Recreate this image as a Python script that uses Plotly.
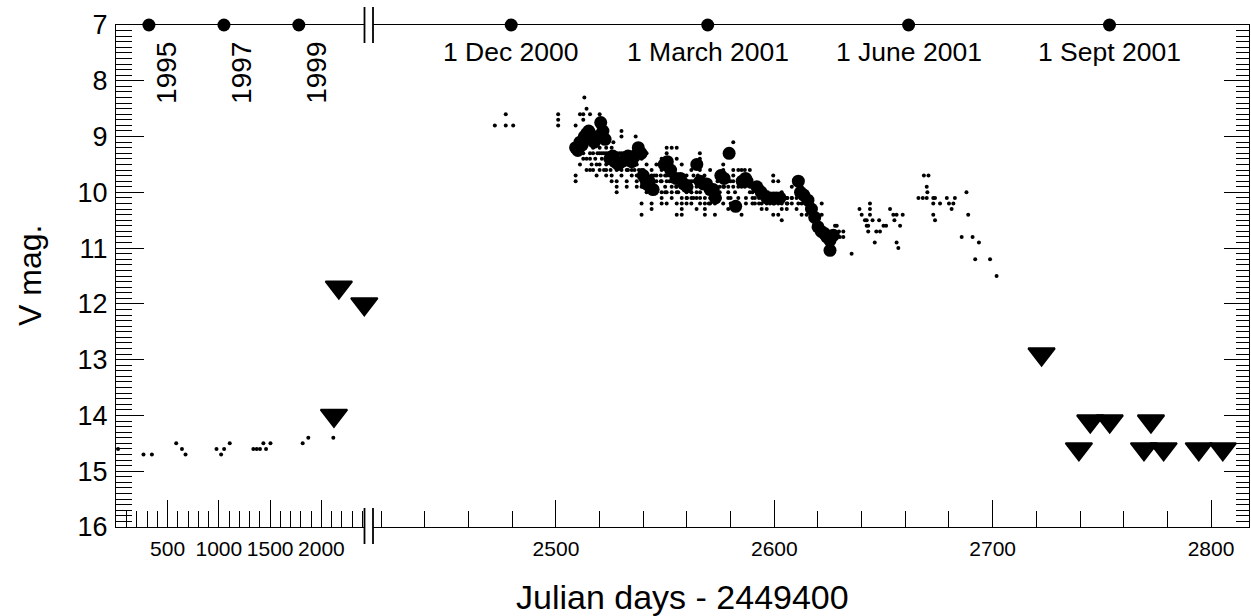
import plotly.graph_objects as go

# ---------------- data ----------------
# left (compressed) segment: archival observations, days = JD - 2449400
early_day = [17, 265, 347, 584, 640, 675, 977, 1022, 1051, 1106, 1336, 1369, 1401,
             1434, 1460, 1503, 1817, 1872, 2116]
early_mag = [14.6, 14.7, 14.7, 14.5, 14.6, 14.7, 14.6, 14.7, 14.6, 14.5, 14.6, 14.6, 14.6,
             14.5, 14.6, 14.5, 14.5, 14.4, 14.4]

# upper limits (triangles)
early_limit_day = [2122, 2170, 2418]
early_limit_mag = [14.0, 11.7, 12.0]
late_limit_day = [2722.4, 2739.5, 2744.7, 2753.6, 2772.5, 2769.3, 2778.3, 2794.4, 2805.4]
late_limit_mag = [12.9, 14.6, 14.1, 14.1, 14.1, 14.6, 14.6, 14.6, 14.6]

# right segment: visual estimates (small dots)
small_day = [
    2472, 2477, 2477, 2480.4,
    2501, 2501, 2501,
    2509, 2509, 2509,
    2511, 2511, 2511,
    2512.5, 2512.5, 2512.5, 2512.5,
    2513,
    2514, 2514, 2514,
    2515.6, 2515.6, 2515.6, 2515.6,
    2516.3,
    2517, 2517, 2517,
    2518.6, 2518.6,
    2520, 2520, 2520, 2520, 2520,
    2523, 2523, 2523, 2523, 2523, 2523,
    2525.5, 2525.5, 2525.5, 2525.5, 2525.5,
    2526.3,
    2527.8, 2527.8, 2527.8, 2527.8, 2527.8, 2527.8,
    2530, 2530, 2530, 2530, 2530,
    2532.4, 2532.4, 2532.4, 2532.4, 2532.4,
    2534.7, 2534.7, 2534.7,
    2536.5,
    2537, 2537, 2537, 2537, 2537,
    2539.2, 2539.2, 2539.2, 2539.2, 2539.2, 2539.2,
    2541.5, 2541.5, 2541.5, 2541.5, 2541.5, 2541.5,
    2543.8, 2543.8, 2543.8, 2543.8, 2543.8, 2543.8,
    2546, 2546, 2546, 2546, 2546,
    2548.4, 2548.4, 2548.4, 2548.4, 2548.4, 2548.4,
    2550.7, 2550.7, 2550.7, 2550.7, 2550.7, 2550.7,
    2553, 2553, 2553, 2553, 2553, 2553,
    2555.3, 2555.3, 2555.3, 2555.3, 2555.3, 2555.3, 2555.3, 2555.3,
    2557.6, 2557.6, 2557.6, 2557.6, 2557.6, 2557.6, 2557.6,
    2559.8, 2559.8, 2559.8, 2559.8, 2559.8, 2559.8,
    2562, 2562, 2562, 2562, 2562, 2562,
    2564.4, 2564.4, 2564.4, 2564.4, 2564.4,
    2565.9, 2565.9, 2565.9,
    2568.2, 2568.2, 2568.2, 2568.2, 2568.2, 2568.2,
    2570.6, 2570.6, 2570.6, 2570.6,
    2572.8, 2572.8, 2572.8, 2572.8,
    2576.6, 2576.6, 2576.6, 2576.6, 2576.6, 2576.6,
    2578.9, 2578.9, 2578.9, 2578.9, 2578.9,
    2581.2, 2581.2, 2581.2, 2581.2, 2581.2,
    2583.5, 2583.5, 2583.5, 2583.5, 2583.5, 2583.5,
    2585, 2585, 2585,
    2586.5, 2586.5, 2586.5,
    2588.8, 2588.8, 2588.8, 2588.8,
    2591.1, 2591.1, 2591.1,
    2594.2, 2594.2, 2594.2, 2594.2,
    2596.5, 2596.5, 2596.5,
    2599.5, 2599.5, 2599.5, 2599.5, 2599.5,
    2601.8, 2601.8, 2601.8, 2601.8,
    2603.4, 2603.4, 2603.4, 2603.4, 2603.4,
    2605.7, 2605.7, 2605.7,
    2608, 2608, 2608,
    2610.2, 2610.2, 2610.2, 2610.2,
    2612.5, 2612.5, 2612.5, 2612.5, 2612.5,
    2614.8, 2614.8,
    2617,
    2621.7, 2621.7,
    2627.8, 2627.8,
    2628.6, 2629.6, 2631.6, 2630, 2631.6, 2635.4,
    2639, 2640, 2641.5, 2642.3, 2642.3, 2643, 2643, 2643.8, 2643.8, 2643.8,
    2645, 2646, 2646.7, 2648.4, 2648, 2650, 2651.2, 2653, 2654.5, 2656,
    2658.8, 2655, 2656, 2656.8, 2657.6,
    2668.5, 2670.6, 2669.8, 2670.1, 2666, 2668, 2669.8, 2672.8, 2673.6, 2672.8,
    2675.9, 2672.8, 2673.6, 2679, 2682.7, 2680, 2682, 2681.2, 2688, 2688.8,
    2685.8, 2690.8, 2693.7, 2692, 2698.8, 2701.8,
    # horizontal runs of the dense part
    2519, 2521, 2522, 2524, 2526, 2529, 2531, 2533, 2535,
    2518, 2521, 2524, 2526, 2529, 2531, 2533, 2536,
    2522, 2525, 2530, 2533, 2536, 2538, 2540,
    2545, 2548, 2550, 2552, 2556, 2558, 2563, 2565, 2568,
    2540, 2544, 2548, 2552, 2554, 2557, 2561, 2563, 2566, 2574, 2578, 2580,
    2545, 2550, 2555, 2560, 2567, 2569, 2575, 2577, 2585, 2590, 2592,
    2550, 2553, 2556, 2562, 2566, 2575, 2582, 2590, 2597,
    2560, 2563, 2566, 2575, 2580, 2587, 2590, 2593, 2596, 2598, 2600, 2604, 2606, 2608,
    2566, 2570, 2580, 2587, 2590, 2593, 2598, 2600, 2606, 2611,
]
small_mag = [
    8.8, 8.6, 8.8, 8.8,
    8.6, 8.7, 8.8,
    8.8, 9.7, 9.8,
    8.6, 9.0, 9.5,
    8.6, 8.7, 9.3, 9.4,
    8.3,
    8.5, 9.4, 9.6,
    8.6, 9.3, 9.4, 9.6,
    9.5,
    9.2, 9.3, 9.6,
    9.5, 9.7,
    8.6, 9.2, 9.3, 9.5, 9.6,
    9.2, 9.3, 9.4, 9.5, 9.6, 9.7,
    9.2, 9.3, 9.5, 9.7, 9.8,
    9.1,
    9.3, 9.4, 9.6, 9.8, 9.9, 10.0,
    8.9, 9.0, 9.3, 9.5, 9.7,
    9.3, 9.5, 9.6, 9.8, 9.9,
    9.4, 9.6, 9.7,
    9.0,
    9.3, 9.5, 9.7, 9.8, 9.9,
    9.4, 9.6, 9.8, 9.9, 10.2, 10.4,
    9.3, 9.5, 9.7, 9.8, 9.9, 10.0,
    9.6, 9.7, 9.9, 10.0, 10.2, 10.3,
    9.5, 9.7, 9.8, 9.9, 10.0,
    9.4, 9.6, 9.8, 10.0, 10.1, 10.2,
    9.2, 9.3, 9.7, 9.8, 10.0, 10.2,
    9.2, 9.6, 9.7, 9.8, 9.9, 10.1,
    9.2, 9.4, 9.7, 9.8, 9.9, 10.0, 10.2, 10.4,
    9.5, 9.7, 9.9, 10.1, 10.2, 10.3, 10.4,
    9.7, 9.8, 9.9, 10.0, 10.1, 10.2,
    9.6, 9.8, 9.9, 10.0, 10.1, 10.2,
    9.8, 9.9, 10.0, 10.1, 10.3,
    9.3, 9.4, 9.6,
    9.8, 9.9, 10.1, 10.2, 10.3, 10.4,
    9.6, 10.0, 10.1, 10.2,
    10.0, 10.1, 10.2, 10.4,
    9.5, 9.6, 9.7, 9.8, 9.9, 10.2,
    9.8, 9.9, 10.0, 10.1, 10.3,
    9.1, 9.6, 9.7, 9.8, 9.9,
    9.6, 9.8, 9.9, 10.1, 10.2, 10.3,
    9.6, 9.8, 10.4,
    9.6, 9.8, 9.9,
    9.6, 9.8, 9.9, 10.0,
    9.9, 10.1, 10.2,
    9.9, 10.1, 10.2, 10.3,
    10.1, 10.2, 10.3,
    9.7, 9.8, 10.1, 10.2, 10.4,
    9.8, 10.1, 10.2, 10.4,
    10.0, 10.1, 10.2, 10.3, 10.5,
    10.1, 10.2, 10.3,
    9.9, 10.1, 10.2,
    9.8, 10.0, 10.1, 10.3,
    9.8, 9.9, 10.1, 10.2, 10.4,
    10.2, 10.4,
    10.4,
    10.2, 10.4,
    10.6, 10.7,
    10.6, 10.7, 10.7, 10.8, 10.8, 11.1,
    10.3, 10.4, 10.5, 10.5, 10.6, 10.6, 10.7, 10.2, 10.3, 10.4,
    10.5, 10.9, 10.7, 10.7, 10.5, 10.6, 10.6, 10.3, 10.4, 10.4,
    10.4, 10.5, 10.9, 11.0, 10.6,
    9.7, 9.7, 9.9, 10.0, 10.1, 10.1, 10.1, 10.1, 10.1, 10.2,
    10.2, 10.4, 10.5, 10.1, 10.1, 10.2, 10.2, 10.3, 10.0, 10.4,
    10.8, 10.8, 10.9, 11.2, 11.2, 11.5,
    9.3, 9.3, 9.3, 9.3, 9.3, 9.3, 9.3, 9.3, 9.3,
    9.4, 9.4, 9.4, 9.4, 9.4, 9.4, 9.4, 9.4,
    9.6, 9.6, 9.6, 9.6, 9.6, 9.6, 9.6,
    9.7, 9.7, 9.7, 9.7, 9.7, 9.7, 9.7, 9.7, 9.7,
    9.8, 9.8, 9.8, 9.8, 9.8, 9.8, 9.8, 9.8, 9.8, 9.8, 9.8, 9.8,
    9.9, 9.9, 9.9, 9.9, 9.9, 9.9, 9.9, 9.9, 9.9, 9.9, 9.9,
    10.0, 10.0, 10.0, 10.0, 10.0, 10.0, 10.0, 10.0, 10.0,
    10.1, 10.1, 10.1, 10.1, 10.1, 10.1, 10.1, 10.1, 10.1, 10.1, 10.1, 10.1, 10.1, 10.1,
    10.2, 10.2, 10.2, 10.2, 10.2, 10.2, 10.2, 10.2, 10.2, 10.2,
]

# right segment: nightly means (large dots)
big_day = [2509, 2511, 2513, 2515, 2516.5, 2520.5, 2521.5, 2522.5, 2524.7, 2527,
           2530, 2533, 2534.7, 2537.7, 2540, 2541.5, 2543, 2549.6, 2551, 2557,
           2558.5, 2564.5, 2566, 2569, 2570.6, 2572, 2573, 2575.5, 2579.3, 2582.3,
           2585.3, 2586.8, 2592, 2596.6, 2599.6, 2602.6, 2611, 2612, 2615.4, 2617,
           2620, 2623, 2625.5, 2625.5, 2627,
           2510, 2512, 2514, 2517.5, 2519, 2526, 2528.5, 2531.5, 2536, 2539,
           2542.5, 2544.5, 2552.5, 2555, 2560, 2567.5, 2577, 2587.5, 2594, 2598,
           2601, 2613.5, 2618.5, 2621.5, 2624]
big_mag = [9.2, 9.1, 9.0, 8.9, 9.05, 8.75, 8.9, 9.05, 9.4, 9.45,
           9.45, 9.35, 9.45, 9.2, 9.7, 9.85, 9.9, 9.5, 9.45, 9.75,
           9.85, 9.5, 9.8, 9.85, 9.95, 9.95, 10.1, 9.7, 9.3, 10.25,
           9.8, 9.75, 9.9, 10.1, 10.1, 10.1, 9.8, 10.0, 10.14, 10.3,
           10.62, 10.74, 10.86, 11.04, 10.77,
           9.25, 9.15, 8.95, 9.1, 9.0, 9.35, 9.5, 9.4, 9.35, 9.3,
           9.8, 9.95, 9.6, 9.75, 9.9, 9.85, 9.75, 9.8, 10.0, 10.1,
           10.1, 10.05, 10.45, 10.7, 10.8]

# calendar markers along the top axis
top_left_day = [318, 1049.5, 1779.5]
top_left_label = ["1995", "1997", "1999"]
top_right_day = [2479.5, 2569.5, 2661.5, 2753.5]
top_right_label = ["1 Dec 2000", "1 March 2001", "1 June 2001", "1 Sept 2001"]

left_ticks = [500, 1000, 1500, 2000]
right_ticks = [2500, 2600, 2700, 2800]
y_ticks = [7, 8, 9, 10, 11, 12, 13, 14, 15, 16]

# ---------------- figure ----------------
FONT = "Arial, Liberation Sans, sans-serif"
W, H = 1251, 616
ML, MR, MT, MB = 116, 2, 25, 89
PW = W - ML - MR
PH = H - MT - MB
BREAK_L, BREAK_R = 364.5, 373.0
dom_left = [0, (BREAK_L - ML) / PW]
dom_right = [(BREAK_R - ML) / PW, 1]

fig = go.Figure()

dot = dict(color="black", size=4)
big = dict(color="black", size=13)
tri = dict(color="black", size=23, symbol="triangle-down", line=dict(color="black", width=2))

fig.add_trace(go.Scatter(x=early_day, y=early_mag, mode="markers", marker=dot,
                         xaxis="x", yaxis="y", cliponaxis=False))
fig.add_trace(go.Scatter(x=early_limit_day, y=early_limit_mag, mode="markers", marker=tri,
                         xaxis="x", yaxis="y", cliponaxis=False))
fig.add_trace(go.Scatter(x=top_left_day, y=[7] * len(top_left_day), mode="markers",
                         marker=dict(color="black", size=13), xaxis="x", yaxis="y",
                         cliponaxis=False))

fig.add_trace(go.Scatter(x=small_day, y=small_mag, mode="markers", marker=dot,
                         xaxis="x2", yaxis="y2", cliponaxis=False))
fig.add_trace(go.Scatter(x=big_day, y=big_mag, mode="markers", marker=big,
                         xaxis="x2", yaxis="y2", cliponaxis=False))
fig.add_trace(go.Scatter(x=late_limit_day, y=late_limit_mag, mode="markers", marker=tri,
                         xaxis="x2", yaxis="y2", cliponaxis=False))
fig.add_trace(go.Scatter(x=top_right_day, y=[7] * len(top_right_day), mode="markers",
                         marker=dict(color="black", size=13), xaxis="x2", yaxis="y2",
                         cliponaxis=False))

axis_common = dict(showline=True, linecolor="black", linewidth=1.3, showgrid=False,
                   zeroline=False, ticks="inside", tickcolor="black", tickwidth=1.2)

fig.update_layout(
    width=W, height=H,
    margin=dict(l=ML, r=MR, t=MT, b=MB),
    paper_bgcolor="white", plot_bgcolor="white",
    showlegend=False,
    font=dict(family=FONT, color="black"),
    xaxis=dict(**axis_common, domain=dom_left, range=[-3, 2420], anchor="y", mirror=True,
               tickmode="array", tickvals=left_ticks, ticklen=27,
               minor=dict(tick0=0, dtick=100, ticks="inside", ticklen=16,
                          tickcolor="black", tickwidth=1.2),
               tickfont=dict(size=21), ticklabelstandoff=3),
    xaxis2=dict(**axis_common, domain=dom_right, range=[2416.2, 2817.4], anchor="y2",
                mirror=True, tickmode="array", tickvals=right_ticks, ticklen=27,
                minor=dict(tick0=2400, dtick=20, ticks="inside", ticklen=16,
                           tickcolor="black", tickwidth=1.2),
                tickfont=dict(size=21), ticklabelstandoff=3),
    yaxis=dict(**axis_common, range=[16, 7], anchor="x", side="left",
               tickmode="array", tickvals=y_ticks, ticklen=28,
               minor=dict(tick0=7, dtick=0.1, ticks="inside", ticklen=16,
                          tickcolor="black", tickwidth=1.2),
               tickfont=dict(size=27), ticklabelstandoff=2),
    yaxis2=dict(**axis_common, range=[16, 7], anchor="x2", side="right",
                tickmode="array", tickvals=y_ticks, ticklen=25, showticklabels=False,
                minor=dict(tick0=7, dtick=0.1, ticks="inside", ticklen=13,
                           tickcolor="black", tickwidth=1.2)),
)

annotations = []
for d, lab in zip(top_left_day, top_left_label):
    annotations.append(dict(x=d, y=7, xref="x", yref="y", text=lab, showarrow=False,
                            textangle=-90, xanchor="center", yanchor="top",
                            xshift=17, yshift=-15, font=dict(size=28, family=FONT)))
for d, lab in zip(top_right_day, top_right_label):
    annotations.append(dict(x=d, y=7, xref="x2", yref="y2", text=lab, showarrow=False,
                            xanchor="center", yanchor="middle", yshift=-27,
                            font=dict(size=26.5, family=FONT)))
annotations.append(dict(x=0.5, y=-(597 - (H - MB)) / PH,
                        xref="paper", yref="paper", text="Julian days - 2449400",
                        showarrow=False, xanchor="center", yanchor="middle",
                        font=dict(size=34, family=FONT)))
annotations.append(dict(x=-(ML - 30) / PW, y=0.5, xref="paper", yref="paper",
                        text="V mag.", showarrow=False, textangle=-90,
                        xanchor="center", yanchor="middle", font=dict(size=32, family=FONT)))
fig.update_layout(annotations=annotations)

# axis-break marks
shapes = []
for xp in (BREAK_L, BREAK_R):
    xf = (xp - ML) / PW
    for y0p, y1p in ((7, 43), (508, 544)):
        shapes.append(dict(type="line", xref="paper", yref="paper",
                           x0=xf, x1=xf,
                           y0=(H - MB - y0p) / PH, y1=(H - MB - y1p) / PH,
                           line=dict(color="black", width=1.8)))
fig.update_layout(shapes=shapes)

fig.write_html("out.html",
               config={"displayModeBar": False},
               post_script="document.body.style.margin='0px';document.body.style.overflow='hidden';")
